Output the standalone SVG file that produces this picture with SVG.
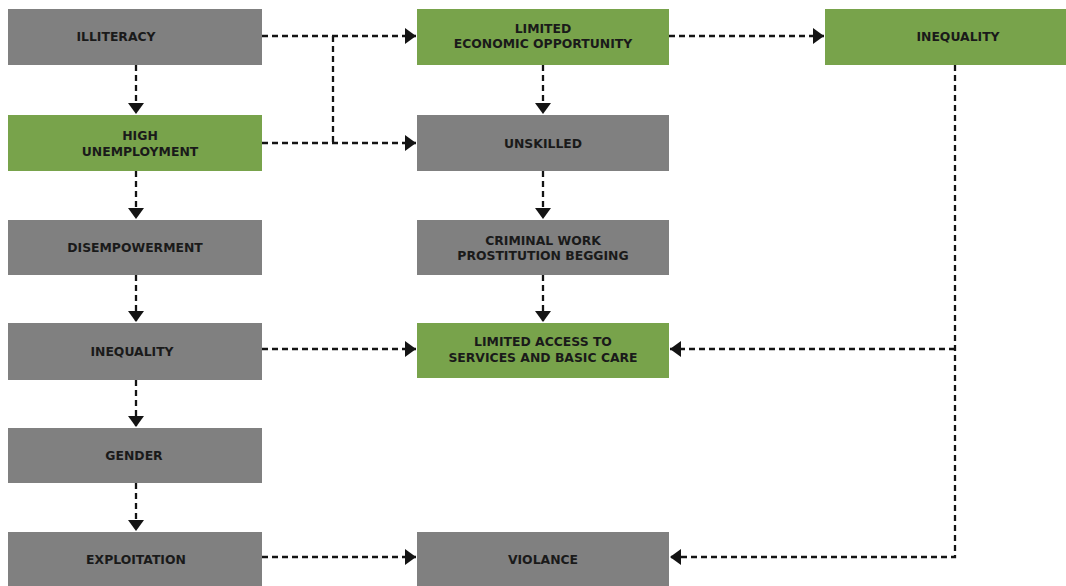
<svg xmlns="http://www.w3.org/2000/svg" width="1066" height="586" viewBox="0 0 1066 586">
<style>
.g{fill:#808080}
.v{fill:#78a34b}
text{font-family:"DejaVu Sans",Verdana,sans-serif;font-weight:bold;font-size:12.4px;fill:#1a1a1a;text-anchor:middle}
.c{fill:none;stroke:#141414;stroke-width:2.3;stroke-dasharray:6 4}
</style>
<defs>
<marker id="ah" markerUnits="userSpaceOnUse" markerWidth="12" markerHeight="16" refX="11" refY="8" orient="auto" viewBox="0 0 12 16">
<path d="M0,0 L11,8 L0,16 z" fill="#141414"/>
</marker>
</defs>
<rect width="1066" height="586" fill="#ffffff"/>
<g id="connectors">
<path class="c" d="M262,36 H416" marker-end="url(#ah)"/>
<path class="c" d="M262,143 H416" marker-end="url(#ah)"/>
<path class="c" d="M333,36 V143"/>
<path class="c" d="M669,36 H824" marker-end="url(#ah)"/>
<path class="c" d="M543,65 V114" marker-end="url(#ah)"/>
<path class="c" d="M543,171 V219" marker-end="url(#ah)"/>
<path class="c" d="M543,275 V322" marker-end="url(#ah)"/>
<path class="c" d="M136,65 V114" marker-end="url(#ah)"/>
<path class="c" d="M136,171 V219" marker-end="url(#ah)"/>
<path class="c" d="M136,275 V322" marker-end="url(#ah)"/>
<path class="c" d="M136,380 V427" marker-end="url(#ah)"/>
<path class="c" d="M136,483 V531" marker-end="url(#ah)"/>
<path class="c" d="M262,349 H416" marker-end="url(#ah)"/>
<path class="c" d="M262,557 H416" marker-end="url(#ah)"/>
<path class="c" d="M955,65 V557 H670" marker-end="url(#ah)"/>
<path class="c" d="M955,349 H670" marker-end="url(#ah)"/>
</g>
<g id="illiteracy"><rect class="g" x="8" y="9" width="254" height="56"/><text x="116" y="41">ILLITERACY</text></g>
<g id="high-unemployment"><rect class="v" x="8" y="115" width="254" height="56"/><text x="140" y="140">HIGH</text><text x="140" y="156">UNEMPLOYMENT</text></g>
<g id="disempowerment"><rect class="g" x="8" y="220" width="254" height="55"/><text x="135" y="252">DISEMPOWERMENT</text></g>
<g id="inequality-left"><rect class="g" x="8" y="323" width="254" height="57"/><text x="132" y="356">INEQUALITY</text></g>
<g id="gender"><rect class="g" x="8" y="428" width="254" height="55"/><text x="134" y="460">GENDER</text></g>
<g id="exploitation"><rect class="g" x="8" y="532" width="254" height="56"/><text x="136" y="564">EXPLOITATION</text></g>
<g id="limited-economic-opportunity"><rect class="v" x="417" y="9" width="252" height="56"/><text x="543" y="33">LIMITED</text><text x="543" y="48">ECONOMIC OPPORTUNITY</text></g>
<g id="unskilled"><rect class="g" x="417" y="115" width="252" height="56"/><text x="543" y="148">UNSKILLED</text></g>
<g id="criminal-work"><rect class="g" x="417" y="220" width="252" height="55"/><text x="543" y="245">CRIMINAL WORK</text><text x="543" y="260">PROSTITUTION BEGGING</text></g>
<g id="limited-access"><rect class="v" x="417" y="323" width="252" height="55"/><text x="543" y="346">LIMITED ACCESS TO</text><text x="543" y="362">SERVICES AND BASIC CARE</text></g>
<g id="violance"><rect class="g" x="417" y="532" width="252" height="56"/><text x="543" y="564">VIOLANCE</text></g>
<g id="inequality-right"><rect class="v" x="825" y="9" width="241" height="56"/><text x="958" y="41">INEQUALITY</text></g>
</svg>
